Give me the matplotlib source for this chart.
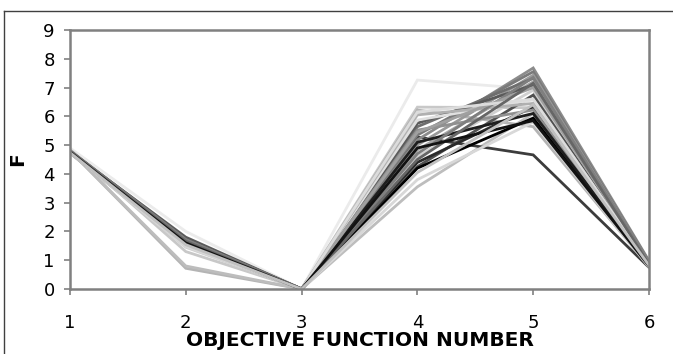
import matplotlib
matplotlib.use("Agg")
import matplotlib.pyplot as plt
from matplotlib.lines import Line2D

plt.rcParams['font.family'] = ['DejaVu Sans']

# objective function numbers on the x axis
objectives = [1, 2, 3, 4, 5, 6]

# values of F for each solution at objectives 1..6 (objective 3 is always 0)
f1 = [4.90, 4.85, 4.80, 4.80, 4.75, 4.78, 4.80, 4.76, 4.80, 4.72, 4.78, 4.74, 4.77,
      4.80, 4.76, 4.75, 4.78, 4.74, 4.79, 4.73, 4.81, 4.77, 4.75, 4.79, 4.76, 4.74]
f2 = [2.00, 1.30, 0.72, 0.80, 1.60, 1.70, 1.55, 1.65, 1.75, 1.50, 1.80, 1.45, 1.60,
      1.55, 1.70, 1.62, 1.58, 1.52, 1.68, 1.48, 1.72, 1.63, 1.57, 1.66, 1.60, 1.54]
f3 = [0.0] * 26
f4 = [7.26, 6.32, 6.22, 3.55, 5.28, 5.18, 5.35, 5.00, 5.64, 4.83, 5.76, 4.60, 4.25,
      5.87, 6.05, 4.40, 5.52, 4.20, 5.10, 3.80, 4.70, 5.45, 6.15, 4.50, 4.90, 4.05]
f5 = [6.95, 6.30, 5.64, 6.10, 4.66, 7.68, 7.55, 7.43, 7.32, 7.20, 7.09, 6.91, 6.74,
      6.57, 6.45, 6.33, 6.22, 5.94, 6.10, 5.80, 7.35, 7.00, 6.60, 7.15, 5.85, 6.40]
f6 = [0.85, 0.80, 0.78, 0.85, 0.75, 0.98, 0.95, 0.92, 0.90, 0.86, 0.90, 0.85, 0.82,
      0.80, 0.85, 0.82, 0.80, 0.78, 0.80, 0.76, 0.93, 0.88, 0.84, 0.87, 0.80, 0.82]

shades = ['#ebebeb', '#c8c8c8', '#b4b4b4', '#bdbdbd', '#3c3c3c', '#8c8c8c', '#7a7a7a',
          '#9a9a9a', '#6e6e6e', '#a8a8a8', '#5a5a5a', '#d0d0d0', '#505050', '#e0e0e0',
          '#b0b0b0', '#2a2a2a', '#909090', '#000000', '#1e1e1e', '#d8d8d8', '#7f7f7f',
          '#a0a0a0', '#dcdcdc', '#666666', '#121212', '#c0c0c0']

fig = plt.figure(figsize=(6.73, 3.54), dpi=100)
ax = fig.add_axes([70 / 673, 1 - 289 / 354, 579 / 673, 259 / 354])

for i in range(len(f1)):
    vals = [f1[i], f2[i], f3[i], f4[i], f5[i], f6[i]]
    ax.plot(objectives, vals, color=shades[i], lw=2.0, solid_joinstyle='miter')

ax.set_xlim(1, 6)
ax.set_ylim(0, 9)
ax.set_xticks(objectives)
ax.set_yticks(range(0, 10))
for s in ax.spines.values():
    s.set_color('#808080')
    s.set_linewidth(1.8)
ax.tick_params(axis='both', colors='#808080', labelcolor='black', labelsize=13,
               length=4, width=1.2)
ax.tick_params(axis='x', pad=14)
ax.tick_params(axis='y', pad=7)

fig.text(359.5 / 673, 1 - 340 / 354, 'OBJECTIVE FUNCTION NUMBER', ha='center',
         va='center', fontsize=14.5, fontweight='bold')
fig.text(18 / 673, 1 - 159 / 354, 'F', ha='center', va='center', rotation=90,
         fontsize=14.5, fontweight='bold')

# outer frame lines (top and left)
fig.add_artist(Line2D([4 / 673, 1], [1 - 11 / 354, 1 - 11 / 354], color='#404040', lw=1))
fig.add_artist(Line2D([4 / 673, 4 / 673], [0, 1 - 11 / 354], color='#404040', lw=1))

fig.savefig('out.png', dpi=100)
